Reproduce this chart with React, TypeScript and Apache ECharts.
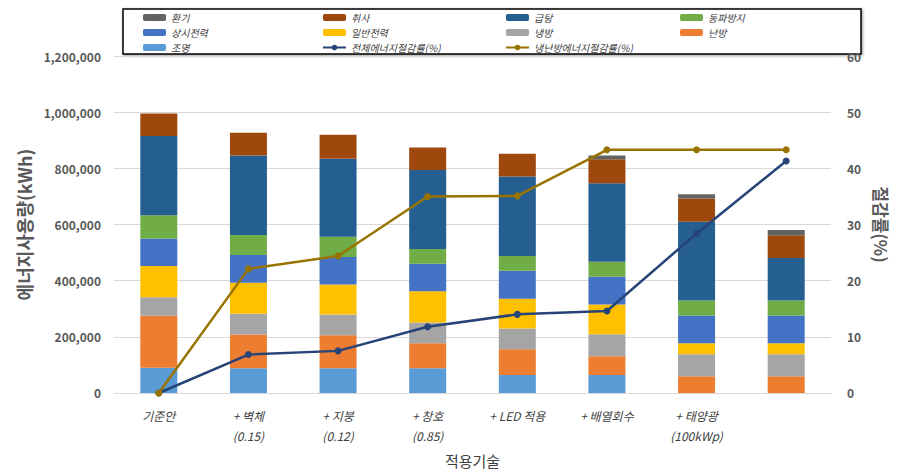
import React, { useEffect, useRef } from "react";
import * as echarts from "echarts";

const categories = ["기준안", "+ 벽체\n(0.15)", "+ 지붕\n(0.12)", "+ 창호\n(0.85)", "+ LED 적용", "+ 배열회수", "+ 태양광\n(100kWp)", ""];

const lighting = [90000, 88500, 88500, 88500, 64000, 64000, 0, 0];
const heating = [185000, 120000, 117000, 88500, 92000, 67000, 60000, 60000];
const cooling = [66000, 74000, 74000, 74000, 74000, 78000, 78000, 78000];
const generalPower = [111000, 110000, 107000, 111000, 106000, 106000, 39000, 39000];
const standbyPower = [98000, 99000, 98000, 98000, 99000, 99000, 99000, 99000];
const freezeProtect = [82500, 71000, 72000, 53000, 53000, 53000, 53000, 53000];
const hotWater = [283000, 283000, 277500, 281000, 283000, 280000, 281000, 152000];
const cooking = [80000, 81000, 86000, 80000, 81000, 85000, 83000, 81000];
const ventilation = [0, 0, 0, 0, 0, 14000, 15000, 18000];

const totalSavings = [0, 6.85, 7.5, 11.8, 14.0, 14.6, 28.4, 41.3];
const hvacSavings = [0, 22.1, 24.4, 35.0, 35.1, 43.3, 43.3, 43.3];

const FONT = "'Noto Sans CJK KR', 'Noto Sans', sans-serif";

function fmt(v: number) {
  return String(v).replace(/\B(?=(\d{3})+(?!\d))/g, ",");
}

export default function App() {
  const ref = useRef<HTMLDivElement>(null);
  useEffect(() => {
    if (!ref.current) return;
    const chart = echarts.init(ref.current, undefined, { renderer: "svg" });
    const barSeries = [
      { name: "조명", data: lighting, color: "#5b9bd5" },
      { name: "난방", data: heating, color: "#ed7d31" },
      { name: "냉방", data: cooling, color: "#a5a5a5" },
      { name: "일반전력", data: generalPower, color: "#ffc000" },
      { name: "상시전력", data: standbyPower, color: "#4472c4" },
      { name: "동파방지", data: freezeProtect, color: "#70ad47" },
      { name: "급탕", data: hotWater, color: "#255e91" },
      { name: "취사", data: cooking, color: "#9e480e" },
      { name: "환기", data: ventilation, color: "#636363" },
    ].map((s) => ({
      name: s.name,
      type: "bar",
      stack: "energy",
      barWidth: 37,
      data: s.data,
      itemStyle: { color: s.color },
    }));
    const lineSeries = [
      { name: "전체에너지절감률(%)", data: totalSavings, color: "#264478" },
      { name: "냉난방에너지절감률(%)", data: hvacSavings, color: "#997300" },
    ].map((s) => ({
      name: s.name,
      type: "line",
      yAxisIndex: 1,
      data: s.data,
      symbol: "circle",
      symbolSize: 7,
      z: 5,
      lineStyle: { color: s.color, width: 2.5 },
      itemStyle: { color: s.color },
    }));
    const legendText = { fontFamily: FONT, fontSize: 10, fontStyle: "italic", color: "#404040", lineHeight: 15 };
    const mkLegend = (left: number, data: string[]) => ({
      orient: "vertical",
      left,
      top: 10,
      padding: 0,
      itemGap: 0,
      itemWidth: 23,
      itemHeight: 7,
      textStyle: legendText,
      data,
    });
    chart.setOption({
      animation: false,
      textStyle: { fontFamily: FONT },
      graphic: [
        {
          type: "rect",
          shape: { x: 123, y: 9, width: 738, height: 45 },
          style: { fill: "#fff", stroke: "#000", lineWidth: 1.5, shadowColor: "rgba(0,0,0,0.4)", shadowBlur: 3, shadowOffsetX: 1, shadowOffsetY: 1 },
          z: -1,
        },
      ],
      legend: [
        mkLegend(143, ["환기", "상시전력", "조명"]),
        mkLegend(322, ["취사", "일반전력", "전체에너지절감률(%)"]),
        mkLegend(505, ["급탕", "냉방", "냉난방에너지절감률(%)"]),
        mkLegend(680, ["동파방지", "난방"]),
      ],
      grid: { left: 114, right: 52, top: 56, bottom: 78 },
      xAxis: {
        type: "category",
        data: categories,
        name: "적용기술",
        nameLocation: "middle",
        nameGap: 60,
        nameTextStyle: { fontFamily: FONT, fontSize: 15, color: "#404040" },
        axisTick: { show: false },
        axisLine: { lineStyle: { color: "#d9d9d9", width: 1 } },
        axisLabel: { fontFamily: FONT, fontSize: 12, fontStyle: "italic", color: "#404040", margin: 13, lineHeight: 20, interval: 0 },
      },
      yAxis: [
        {
          type: "value",
          min: 0,
          max: 1200000,
          interval: 200000,
          name: "에너지사용량(kWh)",
          nameLocation: "middle",
          nameRotate: 90,
          nameGap: 72,
          nameTextStyle: { fontFamily: FONT, fontSize: 18, fontWeight: "bold", color: "#595959" },
          axisLabel: { formatter: (v: number) => fmt(v), fontFamily: FONT, fontSize: 12, fontWeight: "bold", color: "#595959", margin: 13 },
          splitLine: { lineStyle: { color: "#d9d9d9" } },
          axisLine: { show: false },
          axisTick: { show: false },
        },
        {
          type: "value",
          min: 0,
          max: 60,
          interval: 10,
          name: "절감률(%)",
          nameLocation: "middle",
          nameRotate: -90,
          nameGap: 42,
          nameTextStyle: { fontFamily: FONT, fontSize: 17, fontWeight: "bold", color: "#595959" },
          axisLabel: { fontFamily: FONT, fontSize: 12, fontWeight: "bold", color: "#595959", margin: 16 },
          splitLine: { show: false },
          axisLine: { show: false },
          axisTick: { show: false },
        },
      ],
      series: [...barSeries, ...lineSeries],
    });
    return () => chart.dispose();
  }, []);
  return <div ref={ref} style={{ position: "fixed", left: 0, top: 0, width: 898, height: 473, background: "#fff" }} />;
}
